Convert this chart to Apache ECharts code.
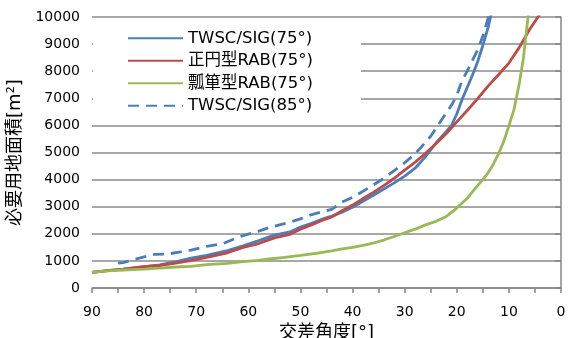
<!DOCTYPE html>
<html>
<head>
<meta charset="utf-8">
<script src="https://cdn.jsdelivr.net/npm/echarts@6/dist/echarts.min.js"></script>
<style>
html,body{margin:0;padding:0;background:#fff;}
#chart{width:574px;height:338px;}
</style>
</head>
<body>
<div id="chart"></div>
<script>
var seriesNames = ['TWSC/SIG(75°)', '正円型RAB(75°)', '瓢箪型RAB(75°)', 'TWSC/SIG(85°)'];
var xTickLabels = [90, 80, 70, 60, 50, 40, 30, 20, 10, 0];

var twsc75Angle = [90,87,84,80,77,74,71,68,64,61,58,55,52,50,48,46,44,42,40,38,36,34,32,30,28,26,24,22,21,20,19,18,17,16,15,14,13.4];
var twsc75Area  = [580,640,700,790,850,960,1100,1200,1380,1560,1750,1950,2070,2250,2380,2530,2650,2800,2980,3200,3420,3650,3880,4130,4420,4850,5350,5780,6000,6420,6950,7400,7850,8350,8950,9600,10100];

var roundAngle = [90,87,84,80,77,74,71,68,64,61,58,55,52,50,48,46,44,42,40,38,36,34,32,30,28,26,24,22,20,18,16,14,12,10,8,6,4];
var roundArea  = [580,640,700,790,830,920,1010,1130,1300,1500,1640,1850,1980,2170,2320,2480,2620,2850,3060,3300,3530,3780,4050,4350,4640,4970,5320,5700,6130,6550,6990,7450,7870,8300,8880,9550,10120];

var gourdAngle = [90,87,84,80,77,74,71,68,64,61,58,56,53,50,47,44,42,40,38,36,34,32,30,28,26,24,22,20,18,17,16,15,14,13,12,11,10,9,8,7.2,6.8,6.2];
var gourdArea  = [580,630,665,700,730,775,800,860,910,970,1020,1070,1130,1200,1280,1370,1440,1500,1570,1660,1770,1900,2040,2170,2330,2460,2640,2950,3310,3550,3780,4000,4250,4560,4950,5400,5980,6600,7550,8500,9200,10200];

var twsc85Angle = [85,84,82,80,78,75.6,73,71,68,65,62,60,58,56,54,52,50,48,46,44,42,40,38,36,34,32,30,28,27,25,23,21,20,19,18,17,16,15,14,13.7];
var twsc85Area  = [920,935,1050,1150,1240,1250,1330,1400,1540,1630,1870,1990,2100,2230,2330,2430,2550,2700,2800,2900,3170,3350,3570,3800,4050,4330,4620,4950,5160,5600,6180,6750,7100,7650,8000,8400,8780,9300,9950,10200];

function pairs(a, b) { return a.map(function (v, i) { return [v, b[i]]; }); }

var colors = ['#4A7EBB', '#BE4B48', '#98B954', '#4A7EBB'];
var font = '"DejaVu Sans", "Noto Sans CJK JP", sans-serif';

var chart = echarts.init(document.getElementById('chart'), null, {renderer: 'canvas'});
var mk = function (name, data, color, dash) {
  return {
    name: name, type: 'line', data: data, symbol: 'none', smooth: false,
    lineStyle: {color: color, width: 2.8, type: dash ? [11, 7] : 'solid'},
    itemStyle: {color: color}, clip: true, animation: false
  };
};
chart.setOption({
  animation: false,
  backgroundColor: '#fff',
  grid: {left: 92, right: 13, top: 17, bottom: 50, containLabel: false, outerBoundsMode: 'none'},
  legend: {
    orient: 'vertical', left: 93, top: 24,
    data: seriesNames,
    backgroundColor: '#fff',
    padding: [6, 48, 6, 34],
    itemGap: 6, itemWidth: 55, itemHeight: 14,
    itemStyle: {opacity: 0},
    textStyle: {fontSize: 16.5, fontFamily: font, color: '#000'}
  },
  xAxis: {
    type: 'value', inverse: true, min: 0, max: 90, interval: 5,
    name: '交差角度[°]', nameLocation: 'middle', nameGap: 25,
    nameTextStyle: {fontSize: 18, fontFamily: font, color: '#000'},
    axisLine: {show: true, lineStyle: {color: '#868686', width: 1.5}},
    axisTick: {show: true, length: 5, lineStyle: {color: '#868686', width: 1.5}},
    axisLabel: {
      fontSize: 14, fontFamily: font, color: '#000', margin: 17,
      formatter: function (v) { return xTickLabels.indexOf(v) >= 0 ? String(v) : ''; }
    },
    splitLine: {show: false}
  },
  yAxis: {
    type: 'value', min: 0, max: 10000, interval: 1000,
    name: '必要用地面積[m²]', nameLocation: 'middle', nameGap: 51, nameRotate: 90,
    nameTextStyle: {fontSize: 18, fontFamily: font, color: '#000'},
    axisLine: {show: true, lineStyle: {color: '#868686', width: 1.5}},
    axisTick: {show: true, length: 6, lineStyle: {color: '#868686', width: 1.5}},
    axisLabel: {fontSize: 14, fontFamily: font, color: '#000', margin: 12,
      formatter: function (v) { return String(v); }},
    splitLine: {show: true, lineStyle: {color: '#8a8a8a', width: 1.5}}
  },
  series: [
    mk(seriesNames[0], pairs(twsc75Angle, twsc75Area), colors[0], false),
    mk(seriesNames[1], pairs(roundAngle, roundArea), colors[1], false),
    mk(seriesNames[2], pairs(gourdAngle, gourdArea), colors[2], false),
    mk(seriesNames[3], pairs(twsc85Angle, twsc85Area), colors[3], true)
  ]
});
</script>
</body>
</html>
